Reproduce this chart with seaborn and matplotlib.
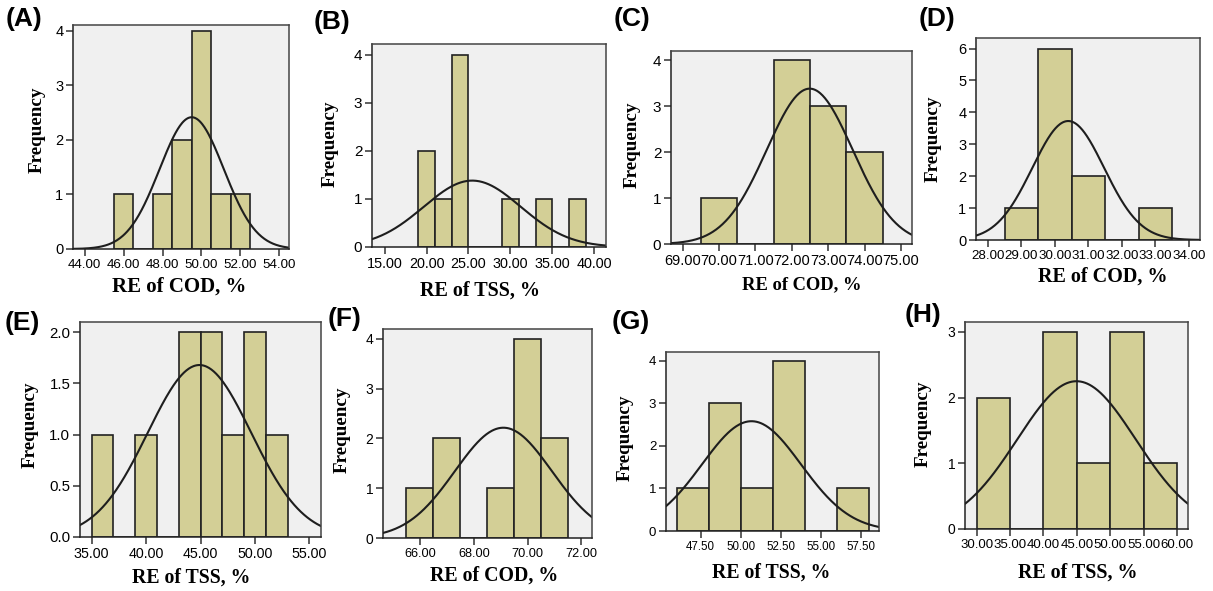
import numpy as np
import seaborn as sns
import matplotlib
matplotlib.use("Agg")
import matplotlib.pyplot as plt
from matplotlib.ticker import FormatStrFormatter

# bar centres and counts
a_centers = [46, 48, 49, 50, 51, 52]
a_counts = [1, 1, 2, 4, 1, 1]
b_centers = [20, 22, 24, 30, 34, 38]
b_counts = [2, 1, 4, 1, 1, 1]
c_centers = [70, 72, 73, 74]
c_counts = [1, 4, 3, 2]
d_centers = [29, 30, 31, 33]
d_counts = [1, 6, 2, 1]
e_centers = [36, 40, 44, 46, 48, 50, 52]
e_counts = [1, 1, 2, 2, 1, 2, 1]
f_centers = [66, 67, 69, 70, 71]
f_counts = [1, 2, 1, 4, 2]
g_centers = [47, 49, 51, 53, 57]
g_counts = [1, 3, 1, 4, 1]
h_centers = [32.5, 42.5, 47.5, 52.5, 57.5]
h_counts = [2, 3, 1, 3, 1]

# fitted normal curve (mean, sd) per panel
normal_fit = {
    "A": (49.5, 1.65), "B": (25.45, 5.78), "C": (72.49, 1.18), "D": (30.4, 1.07),
    "E": (44.9, 4.75), "F": (69.1, 1.8), "G": (50.67, 3.09), "H": (44.95, 8.87),
}

panels = [
    # name, centers, counts, binwidth, binrange, xlabel, xticks, yticks
    ("A", a_centers, a_counts, 1, (45.5, 52.5), "RE of COD, %", np.arange(44, 55, 2), [0, 1, 2, 3, 4]),
    ("B", b_centers, b_counts, 2, (19, 39), "RE of TSS, %", np.arange(15, 41, 5), [0, 1, 2, 3, 4]),
    ("C", c_centers, c_counts, 1, (69.5, 74.5), "RE of COD, %", np.arange(69, 76, 1), [0, 1, 2, 3, 4]),
    ("D", d_centers, d_counts, 1, (28.5, 33.5), "RE of COD, %", np.arange(28, 35, 1), [0, 1, 2, 3, 4, 5, 6]),
    ("E", e_centers, e_counts, 2, (35, 53), "RE of TSS, %", np.arange(35, 56, 5), [0, 0.5, 1.0, 1.5, 2.0]),
    ("F", f_centers, f_counts, 1, (65.5, 71.5), "RE of COD, %", np.arange(66, 73, 2), [0, 1, 2, 3, 4]),
    ("G", g_centers, g_counts, 2, (46, 58), "RE of TSS, %", np.arange(47.5, 58, 2.5), [0, 1, 2, 3, 4]),
    ("H", h_centers, h_counts, 5, (30, 60), "RE of TSS, %", np.arange(30, 61, 5), [0, 1, 2, 3]),
]

# layout in pixels: axes box (l, t, r, b), xlim, ytop, xtick size, ytick size,
# xlabel size, xlabel centre, ylabel centre, panel letter position
layout = {
    "A": ((73, 25, 289, 249), (43.4, 54.5), 4.11, 9.6, 10.5, 15.0, (179, 287), (37, 130), (6, 19)),
    "B": ((372, 44, 606, 247), (13.5, 41.4), 4.22, 10.4, 11, 14.5, (480, 291), (330, 144), (314, 22)),
    "C": ((671, 51, 912, 244), (68.68, 75.3), 4.2, 10.5, 11, 13.3, (802, 285), (632, 145), (614, 19)),
    "D": ((976, 38, 1200, 240), (27.65, 34.33), 6.33, 9.6, 10.5, 14.5, (1103, 277), (933, 139), (919, 19)),
    "E": ((80, 322, 321, 537), (33.93, 56.06), 2.1, 10.3, 10.8, 14.2, (191, 578), (30, 425), (5, 323)),
    "F": ((383, 329, 592, 538), (64.63, 72.39), 4.2, 9.2, 10, 14.3, (494, 576), (342, 430), (328, 319)),
    "G": ((666, 352, 879, 531), (45.34, 58.62), 4.21, 8.3, 9.5, 14.2, (771, 573), (625, 438), (612, 322)),
    "H": ((965, 322, 1188, 529), (28.26, 61.64), 3.15, 9.5, 10, 14.4, (1078, 573), (923, 424), (905, 315)),
}

sns.set_theme(style="ticks")
plt.rcParams["font.family"] = ["Liberation Sans", "DejaVu Sans"]
plt.rcParams["text.color"] = "black"
plt.rcParams["axes.labelcolor"] = "black"
plt.rcParams["xtick.color"] = "black"
plt.rcParams["ytick.color"] = "black"

W, H = 1213, 591
fig = plt.figure(figsize=(W / 100, H / 100), dpi=100)

bar_color = "#d3cf96"
edge = "#222222"

for name, centers, counts, bw, brange, xlabel, xticks, yticks in panels:
    (l, t, r, b), xlim, ytop, xts, yts, xlsize, xlpos, ylpos, letter = layout[name]
    ax = fig.add_axes([l / W, 1 - b / H, (r - l) / W, (b - t) / H])
    ax.set_facecolor("#f0f0f0")

    sns.histplot(x=centers, weights=counts, binwidth=bw, binrange=brange, ax=ax,
                 color=bar_color, edgecolor=edge, linewidth=1.2, alpha=1)

    mu, sd = normal_fit[name]
    xs = np.linspace(xlim[0], xlim[1], 300)
    ys = sum(counts) * bw / (sd * np.sqrt(2 * np.pi)) * np.exp(-0.5 * ((xs - mu) / sd) ** 2)
    sns.lineplot(x=xs, y=ys, ax=ax, color="#1e1e1e", linewidth=1.5)

    ax.set_xlim(*xlim)
    ax.set_ylim(0, ytop)
    ax.set_xticks(xticks)
    ax.set_yticks(yticks)
    ax.xaxis.set_major_formatter(FormatStrFormatter("%.2f"))
    if name == "E":
        ax.yaxis.set_major_formatter(FormatStrFormatter("%.1f"))
    ax.tick_params(direction="out", length=5, width=1.1, color="#333333", pad=2)
    ax.tick_params(axis="x", labelsize=xts)
    ax.tick_params(axis="y", labelsize=yts)
    for s in ax.spines.values():
        s.set_color("#444444")
        s.set_linewidth(1.1)
    ax.spines["left"].set_color("#222222")
    ax.spines["bottom"].set_color("#222222")

    ax.set_xlabel(xlabel, family="Liberation Serif", fontweight="bold", fontsize=xlsize)
    ax.set_ylabel("Frequency", family="Liberation Serif", fontweight="bold", fontsize=13.8)
    ax.xaxis.label.set_va("center")
    ax.yaxis.label.set_va("center")
    ax.xaxis.set_label_coords((xlpos[0] - l) / (r - l), (b - xlpos[1]) / (b - t))
    ax.yaxis.set_label_coords((ylpos[0] - l) / (r - l), (b - ylpos[1]) / (b - t))

    fig.text(letter[0] / W, 1 - letter[1] / H, f"({name})", fontsize=19,
             fontweight="bold", ha="left", va="center")

fig.savefig("out.png", dpi=100)
